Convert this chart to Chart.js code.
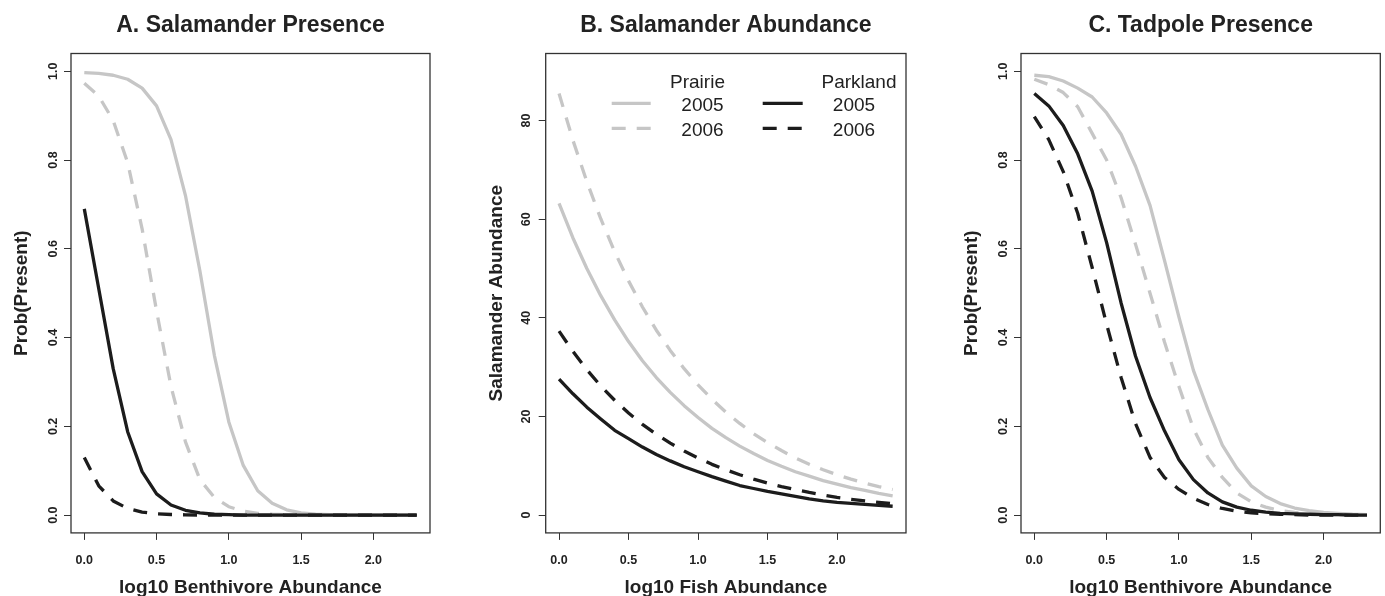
<!DOCTYPE html>
<html>
<head>
<meta charset="utf-8">
<script src="https://cdn.jsdelivr.net/npm/chart.js@4.4.1/dist/chart.umd.min.js"></script>
<style>
  html, body { margin: 0; padding: 0; background: #fff; }
  #wrap { position: relative; width: 1385px; height: 596px; overflow: hidden; }
  canvas { position: absolute; top: 0; }
</style>
</head>
<body>
<div id="wrap">
  <canvas id="cA" width="470" height="596" style="left:0px"></canvas>
  <canvas id="cB" width="475" height="596" style="left:470px"></canvas>
  <canvas id="cC" width="440" height="596" style="left:945px"></canvas>
</div>
<script>
// ── DATA ─────────────────────────────────────────
const xBenth = [0,0.1,0.2,0.3,0.4,0.5,0.6,0.7,0.8,0.9,1.0,1.1,1.2,1.3,1.4,1.5,1.6,1.7,1.8,1.9,2.0,2.1,2.2,2.3];
const xFish  = [0,0.1,0.2,0.3,0.4,0.5,0.6,0.7,0.8,0.9,1.0,1.1,1.2,1.3,1.4,1.5,1.6,1.7,1.8,1.9,2.0,2.1,2.2,2.3,2.4];

const xTicks     = [0, 0.5, 1.0, 1.5, 2.0];
const probTicks  = [0, 0.2, 0.4, 0.6, 0.8, 1.0];
const abundTicks = [0, 20, 40, 60, 80];

// A. Salamander Presence
const salPresPrairie05  = [0.997,0.995,0.991,0.982,0.962,0.922,0.846,0.72,0.55,0.36,0.21,0.112,0.055,0.027,0.012,0.005,0.002,0.001,0,0,0,0,0,0];
const salPresPrairie06  = [0.973,0.944,0.889,0.794,0.645,0.46,0.29,0.165,0.08,0.04,0.019,0.009,0.004,0.002,0.001,0,0,0,0,0,0,0,0,0];
const salPresParkland05 = [0.69,0.51,0.33,0.188,0.098,0.048,0.023,0.011,0.005,0.002,0.001,0,0,0,0,0,0,0,0,0,0,0,0,0];
const salPresParkland06 = [0.13,0.066,0.032,0.015,0.007,0.003,0.0015,0.0007,0.0003,0,0,0,0,0,0,0,0,0,0,0,0,0,0,0];

// B. Salamander Abundance
const salAbPrairie05  = [63.2,56.2,50.0,44.5,39.6,35.2,31.3,27.9,24.9,22.2,19.8,17.6,15.7,14.0,12.5,11.1,9.9,8.8,7.9,7.0,6.3,5.6,5.0,4.4,3.9];
const salAbPrairie06  = [85.5,76.0,67.6,60.1,53.4,47.5,42.2,37.5,33.4,29.7,26.4,23.5,20.9,18.6,16.5,14.7,13.1,11.6,10.3,9.2,8.2,7.3,6.5,5.8,5.2];
const salAbParkland05 = [27.6,24.6,21.9,19.5,17.2,15.5,13.8,12.3,11.0,9.8,8.8,7.8,6.9,6.0,5.4,4.8,4.3,3.8,3.3,2.9,2.6,2.4,2.2,2.0,1.8];
const salAbParkland06 = [37.3,33.2,29.5,26.2,23.3,20.7,18.4,16.4,14.6,13.0,11.6,10.3,9.2,8.2,7.3,6.5,5.8,5.2,4.6,4.1,3.6,3.2,2.9,2.6,2.3];

// C. Tadpole Presence
const tadPrairie05  = [0.991,0.988,0.978,0.962,0.942,0.906,0.858,0.786,0.698,0.574,0.446,0.326,0.238,0.158,0.106,0.066,0.042,0.026,0.016,0.01,0.006,0.004,0.002,0.001];
const tadPrairie06  = [0.982,0.970,0.952,0.92,0.86,0.80,0.715,0.61,0.50,0.39,0.29,0.195,0.13,0.085,0.05,0.03,0.018,0.01,0.006,0.003,0.002,0.001,0,0];
const tadParkland05 = [0.95,0.922,0.878,0.814,0.73,0.614,0.478,0.358,0.265,0.19,0.125,0.08,0.05,0.03,0.018,0.011,0.007,0.004,0.003,0.002,0.001,0.001,0,0];
const tadParkland06 = [0.898,0.846,0.774,0.68,0.558,0.43,0.31,0.206,0.13,0.085,0.058,0.038,0.024,0.015,0.009,0.005,0.003,0.002,0.001,0,0,0,0,0];

// ── STYLE ────────────────────────────────────────
const GRAY = '#c6c6c6', BLACK = '#1c1c1c', AXIS = '#333', TXT = '#222';
const FONT = '"Liberation Sans", Arial, Helvetica, sans-serif';
const DASH = [14, 11];
const LW = 3.3;

// ── FRAME / TEXT PLUGIN (R-style box, labels) ───
const rFrame = {
  id: 'rFrame',
  afterDraw(chart, args, o) {
    const {ctx, chartArea: ca, scales} = chart;
    const cx = (ca.left + ca.right) / 2, cy = (ca.top + ca.bottom) / 2;
    ctx.save();
    ctx.strokeStyle = AXIS; ctx.lineWidth = 1.3;
    ctx.strokeRect(ca.left, ca.top, ca.right - ca.left, ca.bottom - ca.top);
    ctx.fillStyle = TXT;
    // title
    ctx.font = 'bold 23px ' + FONT; ctx.textAlign = 'center'; ctx.textBaseline = 'alphabetic';
    ctx.fillText(o.title, cx, 31.5);
    // x tick labels
    ctx.font = 'bold 12.5px ' + FONT;
    scales.x.ticks.forEach(t => ctx.fillText(t.value.toFixed(1), scales.x.getPixelForValue(t.value), 563.5));
    // y tick labels (rotated, like R)
    scales.y.ticks.forEach(t => {
      ctx.save();
      ctx.translate(o.yTickX, scales.y.getPixelForValue(t.value));
      ctx.rotate(-Math.PI / 2);
      ctx.fillText(o.yFmt(t.value), 0, 0);
      ctx.restore();
    });
    // axis titles
    ctx.font = 'bold 19px ' + FONT;
    ctx.fillText(o.xLabel, cx, 593);
    ctx.save();
    ctx.translate(o.yLabelX, cy); ctx.rotate(-Math.PI / 2);
    ctx.fillText(o.yLabel, 0, 0);
    ctx.restore();
    // legend (panel B only)
    if (o.legend) {
      const L = o.legend;
      ctx.font = '19px ' + FONT;
      L.cols.forEach(col => {
        ctx.fillText(col.head, col.tx, 88.3);
        col.rows.forEach((r, i) => {
          const y = L.rowY[i];
          ctx.fillText(r, col.tx + (col.numDx || 0), y + 7.5);
          ctx.beginPath();
          ctx.strokeStyle = col.color; ctx.lineWidth = LW; ctx.lineCap = 'butt';
          ctx.setLineDash(i === 1 ? DASH : []);
          ctx.moveTo(col.x0, y); ctx.lineTo(col.x1, y); ctx.stroke();
          ctx.setLineDash([]);
        });
      });
    }
    ctx.restore();
  }
};

function ds(xs, v, color, dashed) {
  return {
    data: xs.map((x, i) => ({x, y: v[i]})),
    borderColor: color, borderWidth: LW, borderDash: dashed ? DASH : [],
    borderCapStyle: 'butt', borderJoinStyle: 'round',
    pointRadius: 0, tension: 0, fill: false
  };
}

function panel(id, o) {
  const canvas = document.getElementById(id);
  return new Chart(canvas, {
    type: 'line',
    data: { datasets: o.datasets },
    options: {
      responsive: false, animation: false, devicePixelRatio: 1,
      layout: { padding: { left: 0, top: 53.5, right: canvas.width - o.right, bottom: 0 } },
      plugins: { legend: { display: false }, tooltip: { enabled: false }, rFrame: o.frame },
      scales: {
        x: {
          type: 'linear', min: o.xmin, max: o.xmax,
          afterBuildTicks: sc => { sc.ticks = xTicks.map(v => ({value: v})); },
          afterFit: sc => { sc.height = 596 - 532.9; },
          ticks: { display: false },
          grid: { drawOnChartArea: false, tickLength: 7, color: AXIS, lineWidth: 1 },
          border: { display: false }
        },
        y: {
          type: 'linear', min: o.ymin, max: o.ymax,
          afterBuildTicks: sc => { sc.ticks = o.yTicks.map(v => ({value: v})); },
          afterFit: sc => { sc.width = o.left; },
          ticks: { display: false },
          grid: { drawOnChartArea: false, tickLength: 7, color: AXIS, lineWidth: 1 },
          border: { display: false }
        }
      }
    },
    plugins: [rFrame]
  });
}

panel('cA', {
  left: 71, right: 430, xmin: -0.092, xmax: 2.392, ymin: -0.04, ymax: 1.04, yTicks: probTicks,
  datasets: [
    ds(xBenth, salPresParkland05, BLACK, false),
    ds(xBenth, salPresParkland06, BLACK, true),
    ds(xBenth, salPresPrairie05, GRAY, false),
    ds(xBenth, salPresPrairie06, GRAY, true)
  ],
  frame: { title: 'A. Salamander Presence', xLabel: 'log10 Benthivore Abundance', yLabel: 'Prob(Present)',
           yTickX: 57, yLabelX: 26.5, yFmt: v => v.toFixed(1) }
});

panel('cB', {
  left: 545.7 - 470, right: 906 - 470, xmin: -0.096, xmax: 2.496, ymin: -3.6, ymax: 93.6, yTicks: abundTicks,
  datasets: [
    ds(xFish, salAbParkland05, BLACK, false),
    ds(xFish, salAbParkland06, BLACK, true),
    ds(xFish, salAbPrairie05, GRAY, false),
    ds(xFish, salAbPrairie06, GRAY, true)
  ],
  frame: { title: 'B. Salamander Abundance', xLabel: 'log10 Fish Abundance', yLabel: 'Salamander Abundance',
           yTickX: 530 - 470, yLabelX: 501.5 - 470, yFmt: v => String(v),
           legend: {
             rowY: [103.3, 128.3],
             cols: [
               { head: 'Prairie', tx: 697.5 - 470, numDx: 5, rows: ['2005', '2006'], color: GRAY, x0: 611.7 - 470, x1: 650.7 - 470 },
               { head: 'Parkland', tx: 859 - 470, numDx: -5, rows: ['2005', '2006'], color: BLACK, x0: 762.7 - 470, x1: 802.7 - 470 }
             ]
           } }
});

panel('cC', {
  left: 1021 - 945, right: 1380.3 - 945, xmin: -0.092, xmax: 2.392, ymin: -0.04, ymax: 1.04, yTicks: probTicks,
  datasets: [
    ds(xBenth, tadParkland05, BLACK, false),
    ds(xBenth, tadParkland06, BLACK, true),
    ds(xBenth, tadPrairie05, GRAY, false),
    ds(xBenth, tadPrairie06, GRAY, true)
  ],
  frame: { title: 'C. Tadpole Presence', xLabel: 'log10 Benthivore Abundance', yLabel: 'Prob(Present)',
           yTickX: 1007.3 - 945, yLabelX: 977 - 945, yFmt: v => v.toFixed(1) }
});
</script>
</body>
</html>
